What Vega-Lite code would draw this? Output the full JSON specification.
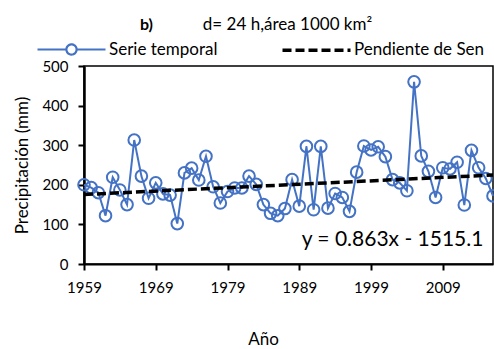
{
  "$schema": "https://vega.github.io/schema/vega-lite/v6.json",
  "autosize": "none",
  "width": 409,
  "height": 198,
  "padding": {"left": 84, "top": 66, "right": 1, "bottom": 85},
  "background": "white",
  "config": {
    "font": "Lato",
    "view": {"stroke": "#000", "strokeWidth": 1.5},
    "axis": {"labelFont": "Lato", "titleFont": "Lato", "labelColor": "#000", "titleColor": "#000", "titleFontWeight": "normal", "grid": false, "labelOverlap": false, "labelFlush": false},
    "axisY": {"values": [0, 100, 200, 300, 400, 500], "tickCount": 6, "labelOverlap": false}
  },
  "title": {"text": "b)", "fontWeight": "bold", "fontSize": 16, "anchor": "start", "frame": "group", "dx": 56, "offset": 0, "dy": 18, "color": "#000", "font": "Lato"},
  "datasets": {
    "series": [
      {"year": 1959, "value": 200}, {"year": 1960, "value": 193}, {"year": 1961, "value": 180},
      {"year": 1962, "value": 122}, {"year": 1963, "value": 219}, {"year": 1964, "value": 187},
      {"year": 1965, "value": 150}, {"year": 1966, "value": 313}, {"year": 1967, "value": 222},
      {"year": 1968, "value": 166}, {"year": 1969, "value": 205}, {"year": 1970, "value": 177},
      {"year": 1971, "value": 174}, {"year": 1972, "value": 102}, {"year": 1973, "value": 230},
      {"year": 1974, "value": 242}, {"year": 1975, "value": 212}, {"year": 1976, "value": 272},
      {"year": 1977, "value": 195}, {"year": 1978, "value": 154}, {"year": 1979, "value": 183},
      {"year": 1980, "value": 192}, {"year": 1981, "value": 192}, {"year": 1982, "value": 222},
      {"year": 1983, "value": 201}, {"year": 1984, "value": 150}, {"year": 1985, "value": 128},
      {"year": 1986, "value": 122}, {"year": 1987, "value": 140}, {"year": 1988, "value": 213},
      {"year": 1989, "value": 146}, {"year": 1990, "value": 297}, {"year": 1991, "value": 137},
      {"year": 1992, "value": 297}, {"year": 1993, "value": 141}, {"year": 1994, "value": 178},
      {"year": 1995, "value": 168}, {"year": 1996, "value": 133}, {"year": 1997, "value": 232},
      {"year": 1998, "value": 298}, {"year": 1999, "value": 288}, {"year": 2000, "value": 296},
      {"year": 2001, "value": 271}, {"year": 2002, "value": 213}, {"year": 2003, "value": 205},
      {"year": 2004, "value": 185}, {"year": 2005, "value": 460}, {"year": 2006, "value": 273},
      {"year": 2007, "value": 234}, {"year": 2008, "value": 168}, {"year": 2009, "value": 243},
      {"year": 2010, "value": 240}, {"year": 2011, "value": 257}, {"year": 2012, "value": 149},
      {"year": 2013, "value": 287}, {"year": 2014, "value": 243}, {"year": 2015, "value": 216},
      {"year": 2016, "value": 172}
    ],
    "trend": [
      {"year": 1959, "value": 175.5},
      {"year": 2016, "value": 224.7}
    ],
    "note": [
      {"year": 2002, "value": 60, "label": "y = 0.863x - 1515.1"}
    ]
  },
  "layer": [
    {
      "data": {"name": "series"},
      "transform": [{"calculate": "'Serie temporal'", "as": "serie"}],
      "mark": {"type": "line", "strokeWidth": 2},
      "encoding": {
        "x": {"field": "year", "type": "quantitative", "scale": {"domain": [1959, 2016], "nice": false, "zero": false},
              "axis": {"orient": "bottom", "values": [1959, 1969, 1979, 1989, 1999, 2009], "format": "d", "title": "Año",
                       "labelFontSize": 15, "titleFontSize": 17, "tickSize": 6, "tickWidth": 2, "tickColor": "#000",
                       "domainColor": "#000", "domainWidth": 2, "labelPadding": 10, "titleX": 179, "titleY": 75, "titleBaseline": "middle"}},
        "y": {"field": "value", "type": "quantitative", "scale": {"domain": [0, 500], "nice": false},
              "axis": {"values": [0, 100, 200, 300, 400, 500], "tickCount": 6, "labelOverlap": false, "title": "Precipitación (mm)", "labelFontSize": 15, "titleFontSize": 17,
                       "tickSize": 6, "tickWidth": 2, "tickColor": "#000", "domainColor": "#000", "domainWidth": 2.5, "labelPadding": 10, "titlePadding": 10}},
        "color": {"field": "serie", "type": "nominal",
                  "scale": {"domain": ["Serie temporal", "Pendiente de Sen"], "range": ["#4472C4", "#000000"]},
                  "legend": {"orient": "none", "legendX": -21, "legendY": -25, "direction": "horizontal", "title": null,
                             "labelFontSize": 17, "labelColor": "#000", "labelFont": "Lato", "symbolSize": 4624, "symbolStrokeWidth": 2.5,
                             "columnPadding": 57, "labelOffset": 29,
                             "encode": {"symbols": {"update": {
                               "shape": {"signal": "datum.value === 'Serie temporal' ? 'M-1,0L-0.15,0M0.15,0L1,0M0.15,0A0.15,0.15 0 1,1 -0.15,0A0.15,0.15 0 1,1 0.15,0' : 'stroke'"},
                               "fill": {"value": "transparent"},
                               "strokeWidth": {"signal": "datum.value === 'Serie temporal' ? 2.2 : 3.5"}}}}}},
        "strokeDash": {"field": "serie", "type": "nominal",
                       "scale": {"domain": ["Serie temporal", "Pendiente de Sen"], "range": [[1, 0], [9, 4]]}}
      }
    },
    {
      "data": {"name": "series"},
      "mark": {"type": "point", "filled": false, "size": 135, "strokeWidth": 2, "color": "#4472C4", "opacity": 1},
      "encoding": {
        "x": {"field": "year", "type": "quantitative", "axis": null},
        "y": {"field": "value", "type": "quantitative"}
      }
    },
    {
      "data": {"name": "trend"},
      "transform": [{"calculate": "'Pendiente de Sen'", "as": "serie"}],
      "mark": {"type": "line", "strokeWidth": 3.5, "strokeCap": "butt"},
      "encoding": {
        "x": {"field": "year", "type": "quantitative",
              "axis": {"orient": "top", "labels": false, "ticks": false, "domain": false, "title": "d= 24 h,área 1000 km²",
                       "titleFontSize": 17, "titleX": 203, "titleY": -42, "titleBaseline": "middle", "titleAlign": "center"}},
        "y": {"field": "value", "type": "quantitative"},
        "color": {"field": "serie", "type": "nominal"},
        "strokeDash": {"field": "serie", "type": "nominal"}
      }
    },
    {
      "data": {"name": "note"},
      "mark": {"type": "text", "fontSize": 21, "font": "Lato", "color": "#000", "align": "center", "baseline": "middle"},
      "encoding": {
        "x": {"field": "year", "type": "quantitative", "axis": null},
        "y": {"field": "value", "type": "quantitative"},
        "text": {"field": "label"}
      }
    }
  ],
  "resolve": {"axis": {"x": "independent"}}
}
